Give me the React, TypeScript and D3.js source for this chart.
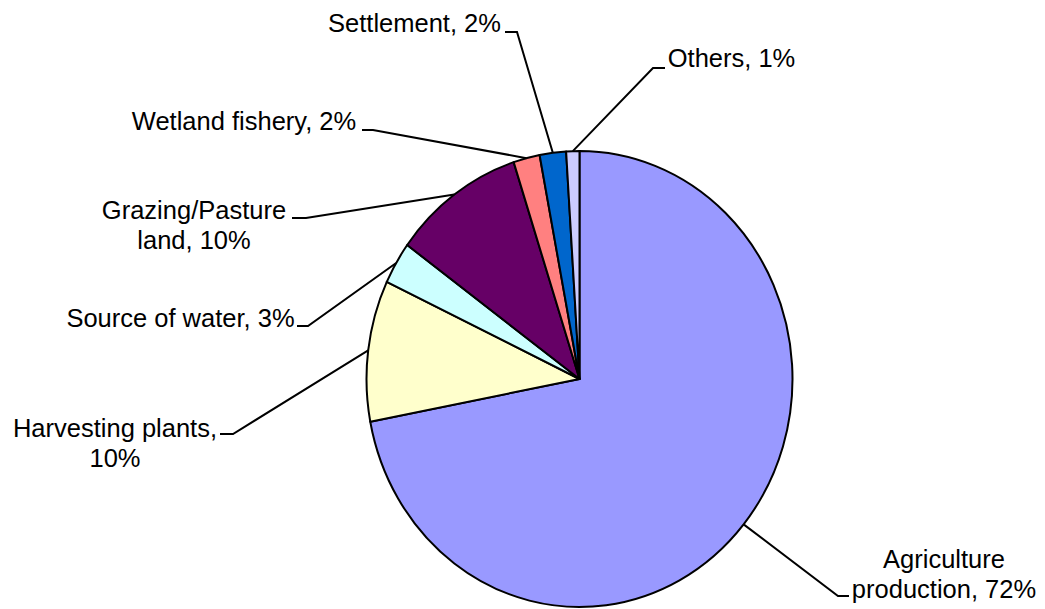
import React from "react";
import * as d3 from "d3";

const categories = [
  "Agriculture production",
  "Harvesting plants",
  "Source of water",
  "Grazing/Pasture land",
  "Wetland fishery",
  "Settlement",
  "Others",
];
const values = [72, 10, 3, 10, 2, 2, 1];
const colors = ["#9999FF", "#FFFFCC", "#CCFFFF", "#660066", "#FF8080", "#0066CC", "#CCCCFF"];
const labelLines = [
  ["Agriculture", "production, 72%"],
  ["Harvesting plants,", "10%"],
  ["Source of water, 3%"],
  ["Grazing/Pasture", "land, 10%"],
  ["Wetland fishery, 2%"],
  ["Settlement, 2%"],
  ["Others, 1%"],
];

// layout (label centre x, first baseline y, elbow, tick end)
const labelLayout = [
  { cx: 944, by: 568, elbow: [838, 596], end: [849, 596] },
  { cx: 115, by: 437, elbow: [233, 434], end: [220, 434] },
  { cx: 180.5, by: 327, elbow: [308, 326], end: [297, 326] },
  { cx: 194, by: 219, elbow: [306, 218], end: [292, 218] },
  { cx: 244, by: 130, elbow: [373, 130], end: [362, 130] },
  { cx: 414.5, by: 32, elbow: [517, 32], end: [505, 32] },
  { cx: 731.5, by: 67, elbow: [653, 68], end: [665, 68] },
];

const W = 1045;
const H = 609;
const CX = 579.5;
const CY = 379;
const RX = 213;
const RY = 228;
const FONT = "'Liberation Sans', Arial, sans-serif";

export default function App() {
  const pie = d3
    .pie<number>()
    .sort(null)
    .startAngle(0)
    .endAngle(2 * Math.PI)
    .value((d) => d);
  const arcs = pie(values);
  const arc = d3.arc<d3.PieArcDatum<number>>().innerRadius(0).outerRadius(RX);

  return (
    <svg
      width={W}
      height={H}
      style={{ position: "absolute", left: 0, top: 0, background: "#fff" }}
    >
      <g transform={`translate(${CX},${CY}) scale(1,${RY / RX})`}>
        {arcs.map((a, i) => (
          <path
            key={categories[i]}
            d={arc(a) || ""}
            fill={colors[i]}
            stroke="#000"
            strokeWidth={2}
            strokeLinejoin="round"
            vectorEffect="non-scaling-stroke"
          />
        ))}
      </g>
      {arcs.map((a, i) => {
        const mid = (a.startAngle + a.endAngle) / 2;
        const px = CX + RX * Math.sin(mid);
        const py = CY - RY * Math.cos(mid);
        const L = labelLayout[i];
        const pts = [
          [px, py],
          L.elbow,
          L.end,
        ];
        return (
          <g key={"lab" + i}>
            <polyline
              points={pts.map((p) => p.join(",")).join(" ")}
              fill="none"
              stroke="#000"
              strokeWidth={2}
            />
            <text
              textAnchor="middle"
              fontFamily={FONT}
              fontSize={25.5}
              fill="#000"
            >
              {labelLines[i].map((t, j) => (
                <tspan key={j} x={L.cx} y={L.by + j * 30}>
                  {t}
                </tspan>
              ))}
            </text>
          </g>
        );
      })}
    </svg>
  );
}
